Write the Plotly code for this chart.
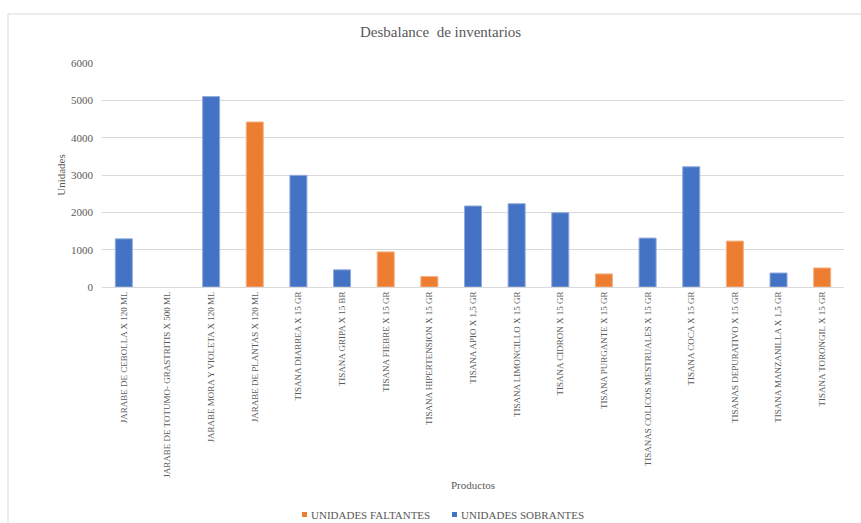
import plotly.graph_objects as go

productos = [
    "JARABE DE CEBOLLA X 120 ML",
    "JARABE DE TOTUMO- GRASTRITIS X 500 ML",
    "JARABE MORA Y VIOLETA X 120 ML",
    "JARABE DE PLANTAS X 120 ML",
    "TISANA DIARREA X 15 GR",
    "TISANA GRIPA X 15 BR",
    "TISANA FIEBRE X 15 GR",
    "TISANA HIPERTENSION X 15 GR",
    "TISANA APIO X 1,5 GR",
    "TISANA LIMONCILLO X 15 GR",
    "TISANA CIDRON X 15 GR",
    "TISANA PURGANTE X 15 GR",
    "TISANAS COLICOS MESTRUALES X 15 GR",
    "TISANA COCA X 15 GR",
    "TISANAS DEPURATIVO X 15 GR",
    "TISANA MANZANILLA X 1,5 GR",
    "TISANA TORONGIL X 15 GR",
]
faltantes = [None, None, None, 4420, None, None, 940, 280, None, None, None, 350, None, None, 1230, None, 510]
sobrantes = [1290, None, 5100, None, 2990, 460, None, None, 2170, 2230, 1990, None, 1310, 3220, None, 375, None]
y_ticks = [0, 1000, 2000, 3000, 4000, 5000, 6000]
series_names = ["UNIDADES FALTANTES", "UNIDADES SOBRANTES"]

FONT = "'Liberation Serif', 'Times New Roman', Times, serif"
GREY = "#595959"
ORANGE = "#ED7D31"
BLUE = "#4472C4"

# plot area in pixels: x 102..844, y 63..287
L, R, T, B = 102, 844, 63, 287
def px(x):
    return (x - L) / (R - L)
def py(y):
    return (B - y) / (B - T)

fig = go.Figure()
fig.add_trace(go.Bar(x=productos, y=faltantes, name=series_names[0], showlegend=False,
                     marker=dict(color=ORANGE, line=dict(color="#F4B183", width=1)), width=0.39))
fig.add_trace(go.Bar(x=productos, y=sobrantes, name=series_names[1], showlegend=False,
                     marker=dict(color=BLUE, line=dict(color="#8FAADC", width=1)), width=0.39))

shapes = [dict(type="rect", xref="paper", yref="paper",
               x0=px(8), x1=px(870), y0=py(530), y1=py(14),
               line=dict(color="#D9D9D9", width=1), fillcolor="rgba(0,0,0,0)", layer="below")]
annotations = [
    dict(text="Desbalance  de inventarios", xref="paper", yref="paper",
         x=px(440), y=py(32), showarrow=False,
         font=dict(size=15, family=FONT, color=GREY), xanchor="center", yanchor="middle"),
    dict(text="Productos", xref="paper", yref="paper",
         x=0.5, y=py(485), showarrow=False,
         font=dict(size=11, family=FONT, color=GREY), xanchor="center", yanchor="middle"),
]
# custom legend (small square swatches as in the original)
for name, color, sx in zip(series_names, [ORANGE, BLUE], [302, 452]):
    shapes.append(dict(type="rect", xref="paper", yref="paper",
                       x0=px(sx), x1=px(sx + 5), y0=py(517), y1=py(512),
                       line=dict(width=0), fillcolor=color))
    annotations.append(dict(text=name, xref="paper", yref="paper", x=px(sx + 7), y=py(514.5),
                            showarrow=False, xanchor="left", yanchor="middle",
                            font=dict(size=11, family=FONT, color=GREY)))

fig.update_layout(
    width=861, height=523,
    margin=dict(l=L, r=861 - R, t=T, b=523 - B, autoexpand=False),
    barmode="overlay",
    plot_bgcolor="white", paper_bgcolor="white",
    font=dict(family=FONT, color=GREY),
    showlegend=False,
    xaxis=dict(tickangle=-90, tickfont=dict(size=9, family=FONT, color=GREY),
               showgrid=False, showline=True, linecolor="#D9D9D9", linewidth=1,
               ticks="", range=[-0.5, 16.5], automargin=False),
    yaxis=dict(range=[0, 6000], tickvals=y_ticks, tickfont=dict(size=11, family=FONT, color=GREY),
               showgrid=True, gridcolor="#D9D9D9", gridwidth=1, zeroline=False,
               showline=False, ticks="", ticklen=0, ticklabelstandoff=8, automargin=False,
               title=dict(text="Unidades", font=dict(size=11, family=FONT, color=GREY), standoff=3)),
    shapes=shapes,
    annotations=annotations,
)

fig.write_html("out.html")
